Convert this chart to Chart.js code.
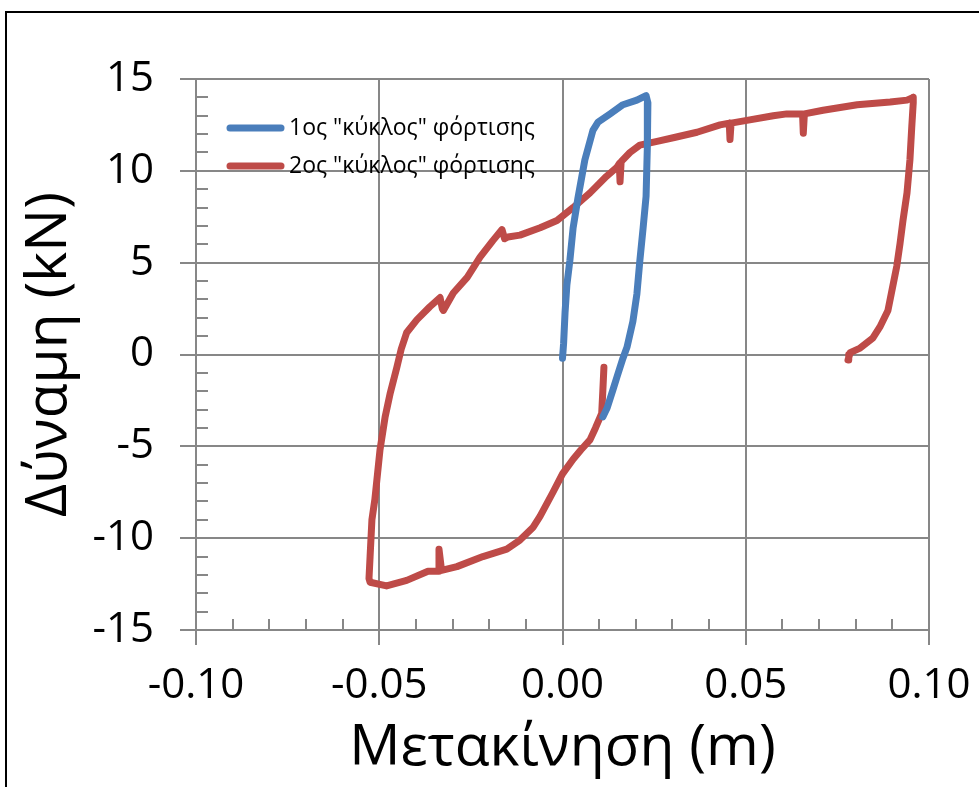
<!DOCTYPE html>
<html>
<head>
<meta charset="utf-8">
<script src="https://cdn.jsdelivr.net/npm/chart.js@4"></script>
<style>
  html, body { margin: 0; padding: 0; background: #fff; }
  #wrap { position: relative; width: 979px; height: 787px; overflow: hidden; }
  #frame { position: absolute; left: 5px; top: 11px; width: 1000px; height: 800px; border: 2px solid #000; box-sizing: border-box; }
  #c { position: absolute; left: 0; top: 0; }
</style>
</head>
<body>
<div id="wrap">
  <div id="frame"></div>
  <canvas id="c" width="979" height="787"></canvas>
</div>
<script>
// 1st loading cycle (displacement m, force kN)
const cycle1X = [0.0000, 0.0003, 0.0007, 0.0012, 0.0020, 0.0029, 0.0042, 0.0061, 0.0083, 0.0097, 0.0130, 0.0165, 0.0203, 0.0228,
                 0.0233, 0.0232, 0.0231, 0.0228, 0.0220, 0.0211, 0.0203, 0.0192, 0.0176, 0.0165, 0.0149, 0.0138, 0.0122, 0.0110];
const cycle1Y = [-0.2, 0.6, 2.3, 3.8, 5.1, 6.9, 8.5, 10.6, 12.2, 12.65, 13.1, 13.6, 13.85, 14.1,
                 13.7, 12.4, 11.3, 8.6, 6.9, 5.1, 3.3, 1.8, 0.4, -0.2, -1.2, -1.9, -2.9, -3.4];

// 2nd loading cycle
const cycle2X = [0.0113, 0.0110, 0.0107, 0.0090, 0.0075, 0.0050, 0.0029, 0.0000, -0.0026, -0.0061, -0.0080, -0.0116, -0.0152, -0.0217, -0.0288,
                 -0.0330, -0.0337, -0.0337, -0.0340, -0.0367, -0.0425, -0.0480, -0.0525, -0.0528,
                 -0.0525, -0.0520, -0.0512, -0.0498, -0.0484, -0.0470, -0.0452, -0.0440, -0.0425, -0.0397, -0.0362, -0.0334, -0.0328, -0.0325, -0.0298,
                 -0.0260, -0.0225, -0.0190, -0.0165, -0.0158, -0.0149, -0.0116, -0.0061, -0.0015, 0.0029, 0.0075, 0.0120, 0.0149,
                 0.0155, 0.0157, 0.0160, 0.0184, 0.0211, 0.0258, 0.0302, 0.0367, 0.0430, 0.0455, 0.0457, 0.0460, 0.0503, 0.0575, 0.0612,
                 0.0655, 0.0657, 0.0660, 0.0711, 0.0804, 0.0894, 0.0940, 0.0957,
                 0.0957, 0.0953, 0.0948, 0.0940, 0.0929, 0.0921, 0.0912, 0.0901, 0.0888, 0.0866, 0.0847, 0.0812, 0.0785, 0.0779, 0.0781];
const cycle2Y = [-0.7, -2.0, -3.2, -4.0, -4.65, -5.2, -5.7, -6.5, -7.5, -8.8, -9.4, -10.1, -10.6, -11.0, -11.55,
                 -11.75, -10.6, -11.8, -11.8, -11.8, -12.3, -12.6, -12.4, -12.2,
                 -11.0, -9.0, -7.9, -5.2, -3.4, -2.1, -0.7, 0.3, 1.2, 1.9, 2.6, 3.1, 2.5, 2.4, 3.35,
                 4.2, 5.3, 6.2, 6.8, 6.3, 6.4, 6.5, 6.9, 7.3, 8.0, 8.8, 9.7, 10.2,
                 10.4, 9.4, 10.5, 11.0, 11.4, 11.6, 11.8, 12.1, 12.5, 12.6, 11.7, 12.6, 12.75, 13.0, 13.1,
                 13.1, 12.05, 13.1, 13.3, 13.6, 13.75, 13.85, 14.0,
                 13.7, 12.4, 10.6, 8.8, 7.3, 6.05, 4.8, 3.7, 2.4, 1.5, 0.9, 0.35, 0.1, -0.3, 0.0];

const seriesNames = ['1ος "κύκλος" φόρτισης', '2ος "κύκλος" φόρτισης'];
const xTicks = [-0.10, -0.05, 0.00, 0.05, 0.10];
const yTicks = [-15, -10, -5, 0, 5, 10, 15];
const xMinorStep = 0.01;
const yMinorStep = 1;

const FONT = "'Open Sans', 'Noto Sans', sans-serif";
const GRID = '#878787';

function toPoints(xs, ys) {
  return xs.map((x, i) => ({ x: x, y: ys[i] }));
}

// minor ticks drawn inside the plot area, on the axes
const minorTicks = {
  id: 'minorTicks',
  afterDraw(chart) {
    const ctx = chart.ctx;
    const xs = chart.scales.x, ys = chart.scales.y;
    const a = chart.chartArea;
    ctx.save();
    ctx.strokeStyle = GRID;
    ctx.lineWidth = 2;
    ctx.beginPath();
    for (let v = xTicks[0]; v <= xTicks[xTicks.length - 1] + 1e-9; v += xMinorStep) {
      const px = Math.round(xs.getPixelForValue(v));
      ctx.moveTo(px, a.bottom - 11);
      ctx.lineTo(px, a.bottom);
    }
    for (let v = yTicks[0]; v <= yTicks[yTicks.length - 1] + 1e-9; v += yMinorStep) {
      const py = Math.round(ys.getPixelForValue(v));
      ctx.moveTo(a.left, py);
      ctx.lineTo(a.left + 12, py);
    }
    ctx.stroke();
    ctx.restore();
  }
};

// legend drawn inside the plot area, upper left
const innerLegend = {
  id: 'innerLegend',
  afterDraw(chart) {
    const ctx = chart.ctx;
    ctx.save();
    ctx.font = '23px ' + FONT;
    ctx.textBaseline = 'middle';
    ctx.fillStyle = '#000';
    chart.data.datasets.forEach((ds, i) => {
      const y = 128 + i * 38;
      ctx.strokeStyle = ds.borderColor;
      ctx.lineWidth = 7;
      ctx.lineCap = 'round';
      ctx.beginPath();
      ctx.moveTo(230, y);
      ctx.lineTo(281, y);
      ctx.stroke();
      ctx.fillText(ds.label, 289, y);
    });
    ctx.restore();
  }
};

function makeDataset(label, xs, ys, color) {
  return {
    label: label,
    data: toPoints(xs, ys),
    borderColor: color,
    backgroundColor: color,
    showLine: true,
    borderWidth: 7,
    pointRadius: 0,
    borderCapStyle: 'round',
    borderJoinStyle: 'round',
    tension: 0
  };
}

new Chart(document.getElementById('c'), {
  type: 'scatter',
  data: {
    datasets: [
      makeDataset(seriesNames[0], cycle1X, cycle1Y, '#4A7EBB'),
      makeDataset(seriesNames[1], cycle2X, cycle2Y, '#BE4B48')
    ]
  },
  options: {
    responsive: false,
    animation: false,
    events: [],
    layout: { padding: { top: 79, right: 50, left: 0, bottom: 0 } },
    plugins: {
      legend: { display: false },
      tooltip: { enabled: false }
    },
    scales: {
      x: {
        type: 'linear',
        min: -0.1,
        max: 0.1,
        afterBuildTicks: s => { s.ticks = xTicks.map(v => ({ value: v })); },
        afterFit: s => { s.height = 157; s.paddingLeft = 0; s.paddingRight = 0; },
        border: { color: GRID, width: 2 },
        grid: { color: GRID, lineWidth: 2, tickLength: 15, drawTicks: true },
        ticks: {
          color: '#000',
          padding: 16,
          maxRotation: 0,
          font: { family: FONT, size: 42 },
          callback: v => v.toFixed(2)
        },
        title: {
          display: true,
          text: 'Μετακίνηση (m)',
          color: '#000',
          padding: { top: 0, bottom: 4 },
          font: { family: FONT, size: 57 }
        }
      },
      y: {
        type: 'linear',
        min: -15,
        max: 15,
        afterBuildTicks: s => { s.ticks = yTicks.map(v => ({ value: v })); },
        afterFit: s => { s.width = 196; },
        border: { color: GRID, width: 2 },
        grid: { color: GRID, lineWidth: 2, tickLength: 16, drawTicks: true },
        ticks: {
          color: '#000',
          padding: 26,
          font: { family: FONT, size: 42 }
        },
        title: {
          display: true,
          text: 'Δύναμη (kN)',
          color: '#000',
          padding: { top: 16, bottom: 0 },
          font: { family: FONT, size: 57 }
        }
      }
    }
  },
  plugins: [minorTicks, innerLegend]
});
</script>
</body>
</html>
